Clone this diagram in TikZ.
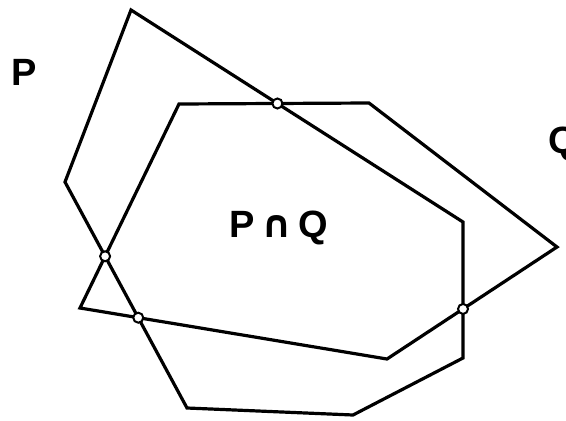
\documentclass[tikz,border=0pt]{standalone}
\usepackage{fontspec}
\setmainfont{Liberation Sans}
\newfontfamily\symfont{DejaVu Sans}
\begin{document}
\begin{tikzpicture}[x=1pt,y=-1pt,
  edge/.style={line width=3.2pt, line join=miter},
  xmark/.style={circle, draw, line width=2pt, fill=white, inner sep=0pt, minimum size=10pt},
  lab/.style={font=\bfseries\fontsize{38}{38}\selectfont, inner sep=0pt}]
\useasboundingbox (0,0) rectangle (566,421);
% polygon P
\coordinate (p1) at (131,10);
\coordinate (p2) at (463,222);
\coordinate (p3) at (463,358);
\coordinate (p4) at (353,415);
\coordinate (p5) at (187,408);
\coordinate (p6) at (65,182);
% polygon Q
\coordinate (q1) at (179,104);
\coordinate (q2) at (369,103);
\coordinate (q3) at (557,247);
\coordinate (q4) at (387,359);
\coordinate (q5) at (80,308);
\draw[edge] (p1) -- (p2) -- (p3) -- (p4) -- (p5) -- (p6) -- cycle;
\draw[edge] (q1) -- (q2) -- (q3) -- (q4) -- (q5) -- cycle;
\node[xmark] (x1) at (intersection of p1--p2 and q1--q2) {};
\node[xmark] (x2) at (intersection of p2--p3 and q3--q4) {};
\node[xmark] (x3) at (intersection of p5--p6 and q4--q5) {};
\node[xmark] (x4) at (intersection of p5--p6 and q5--q1) {};
\node[lab] (lP) at (24,72) {P};
\node[lab, anchor=west] (lQ) at (548,144) {Q};
\node[lab] (lPQ) at (279,228) {P\,{\symfont ∩}\,Q};
\end{tikzpicture}
\end{document}
